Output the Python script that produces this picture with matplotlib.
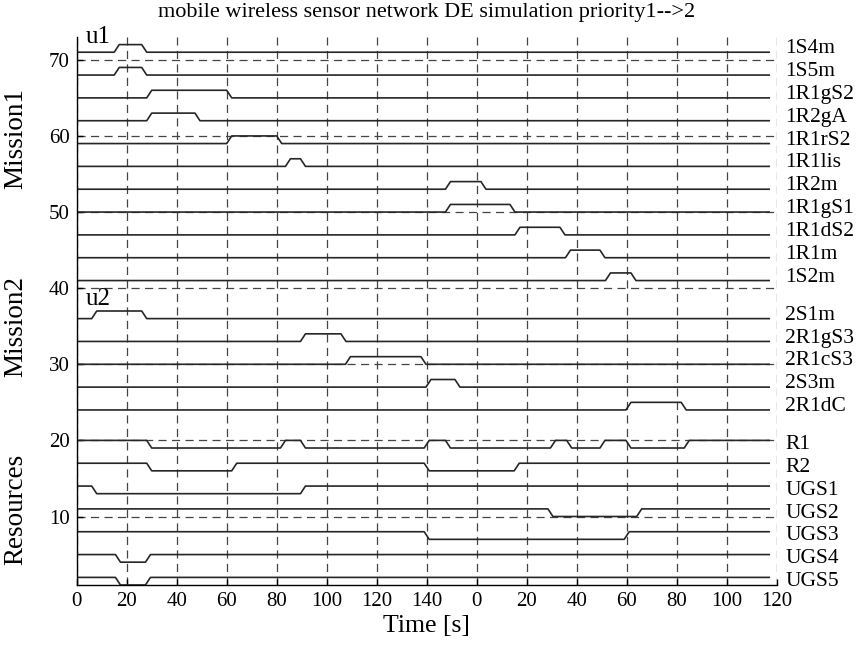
import matplotlib
matplotlib.use("Agg")
import matplotlib.pyplot as plt

# ---------------- data ----------------
title = "mobile wireless sensor network DE simulation priority1-->2"

mission1_names = ['1S4m', '1S5m', '1R1gS2', '1R2gA', '1R1rS2', '1R1lis',
                  '1R2m', '1R1gS1', '1R1dS2', '1R1m', '1S2m']
mission1_base = [71, 68, 65, 62, 59, 56, 53, 50, 47, 44, 41]
mission1_active = [
    [(16, 27)],
    [(16, 27)],
    [(29, 61)],
    [(29, 48.3)],
    [(61, 81)],
    [(84.5, 90.5)],
    [(148.5, 162.7)],
    [(148.5, 174.3)],
    [(176.3, 194.3)],
    [(196.5, 210.3)],
    [(212.5, 222.7)],
]

mission2_names = ['2S1m', '2R1gS3', '2R1cS3', '2S3m', '2R1dC']
mission2_base = [36, 33, 30, 27, 24]
mission2_active = [
    [(7, 27)],
    [(90.5, 106.7)],
    [(108.5, 138.7)],
    [(140.7, 152.3)],
    [(220.7, 242.8)],
]

resource_names = ['R1', 'R2', 'UGS1', 'UGS2', 'UGS3', 'UGS4', 'UGS5']
resource_base = [19, 16, 13, 10, 7, 4, 1]
resource_busy = [
    [(29, 82.5), (90.5, 140), (148.5, 190.5), (197, 210.3), (220.7, 244)],
    [(29, 63), (140, 176)],
    [(7, 90.5)],
    [(189.5, 225)],
    [(140, 220)],
    [(16.5, 28.5)],
    [(16.5, 28.5)],
]

t_end = 277
xticks = list(range(0, 281, 20))
xtick_labels = ['0', '20', '40', '60', '80', '100', '120', '140',
                '0', '20', '40', '60', '80', '100', '120']
yticks = [10, 20, 30, 40, 50, 60, 70]

group_labels = ['Mission1', 'Mission2', 'Resources']
group_label_y = [59.7, 35.0, 11.0]
marker_texts = ['u1', 'u2']
marker_y = [71.6, 37.1]

# ---------------- drawing ----------------
plt.rcParams['font.family'] = ['Liberation Serif', 'DejaVu Serif']

fig = plt.figure(figsize=(8.63, 6.49), dpi=100)
ax = fig.add_axes([0.0889, 0.0986, 0.8111, 0.8444])
ax.set_xlim(0, 280)
ax.set_ylim(1, 73)

dash = (0, (6.5, 4.3))
for x in xticks:
    ax.axvline(x, color='#444444', lw=0.9, ls=dash, zorder=1)
for y in yticks:
    ax.axhline(y, color='#444444', lw=0.9, ls=dash, zorder=1)


def trace(base, intervals, idle_high, ramp=2.0):
    lo, hi = base, base + 1
    idle = hi if idle_high else lo
    act = lo if idle_high else hi
    ts, ys = [0], [idle]
    for a, b in intervals:
        ts += [a - ramp / 2, a + ramp / 2, b - ramp / 2, b + ramp / 2]
        ys += [idle, act, act, idle]
    ts.append(t_end)
    ys.append(idle)
    return ts, ys


line_kw = dict(color='#262626', lw=1.2, zorder=3)
label_kw = dict(fontsize=15.5, ha='left', va='center', clip_on=False)

for names, bases, acts, idle_high in [
        (mission1_names, mission1_base, mission1_active, False),
        (mission2_names, mission2_base, mission2_active, False),
        (resource_names, resource_base, resource_busy, True)]:
    for n, b, iv in zip(names, bases, acts):
        ts, ys = trace(b, iv, idle_high)
        ax.plot(ts, ys, **line_kw)
        ax.text(283.5, b + 0.45, n, **label_kw)

for txt, y in zip(marker_texts, marker_y):
    ax.text(3.5, y, txt, fontsize=18, ha='left', va='bottom')

for txt, y in zip(group_labels, group_label_y):
    ax.text(-24.5, y, txt, fontsize=19.5, rotation=90, ha='center',
            va='center', clip_on=False)

ax.set_xticks(xticks)
ax.set_xticklabels(xtick_labels)
ax.set_yticks(yticks)
ax.tick_params(direction='in', length=4, width=1, labelsize=15, pad=5,
               top=False, right=False)
ax.spines['top'].set_visible(False)
ax.spines['right'].set_visible(False)
for s in ['left', 'bottom']:
    ax.spines[s].set_linewidth(1.0)
    ax.spines[s].set_zorder(4)

ax.set_xlabel('Time [s]', fontsize=18.5, labelpad=3)
fig.text(0.4945, 0.98, title, fontsize=16, ha='center', va='center')

fig.savefig('out.png', dpi=100)
